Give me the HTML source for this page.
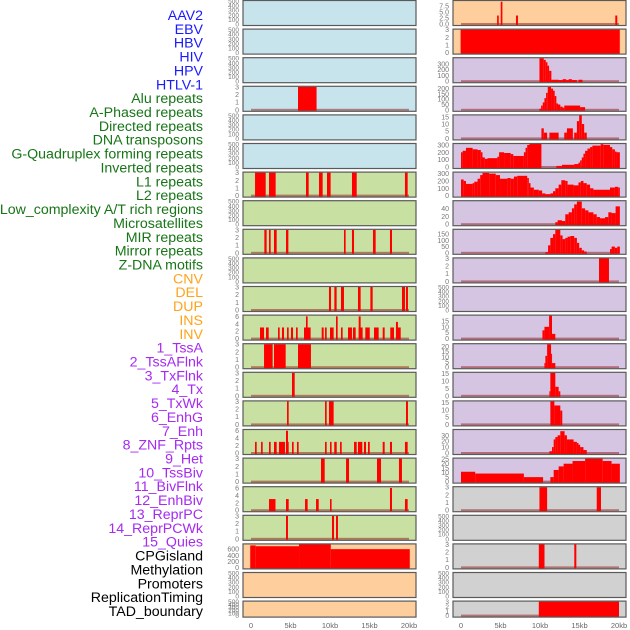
<!DOCTYPE html>
<html><head><meta charset="utf-8">
<style>
html,body{margin:0;padding:0;background:#fff;}
svg{display:block;font-family:"Liberation Sans",sans-serif;}
</style></head>
<body>
<svg id="chart" width="630" height="630" viewBox="0 0 630 630" xmlns="http://www.w3.org/2000/svg"></svg>
<script>
// ---- data ----
const labelNames = ["AAV2","EBV","HBV","HIV","HPV","HTLV-1","Alu repeats","A-Phased repeats","Directed repeats","DNA transposons","G-Quadruplex forming repeats","Inverted repeats","L1 repeats","L2 repeats","Low_complexity A/T rich regions","Microsatellites","MIR repeats","Mirror repeats","Z-DNA motifs","CNV","DEL","DUP","INS","INV","1_TssA","2_TssAFlnk","3_TxFlnk","4_Tx","5_TxWk","6_EnhG","7_Enh","8_ZNF_Rpts","9_Het","10_TssBiv","11_BivFlnk","12_EnhBiv","13_ReprPC","14_ReprPCWk","15_Quies","CPGisland","Methylation","Promoters","ReplicationTiming","TAD_boundary"];
const labelGroups = ["v","v","v","v","v","v","r","r","r","r","r","r","r","r","r","r","r","r","r","s","s","s","s","s","c","c","c","c","c","c","c","c","c","c","c","c","c","c","c","o","o","o","o","o"];
const xTicks = [0,5,10,15,20];
const xTickLabels = ["0","5kb","10kb","15kb","20kb"];

// bars: [startKb, endKb, value]
const L4 = [[5.95,8.3,3]];
const L7 = [[0.51,1.86,3],[2.28,3.12,3],[6.96,7.3,3],[8.61,9.07,3],[9.62,10.08,3],[12.78,13.38,3],[19.49,19.83,3]];
const L9 = [[1.69,1.98,3],[2.28,2.49,3],[2.91,3.25,3],[4.43,4.73,3],[11.77,11.98,3],[12.78,13.04,3],[15.44,15.78,3],[17.59,17.85,3]];
const L11 = [[9.87,10.13,3],[10.55,10.84,3],[11.39,11.77,3],[13.54,13.88,3],[15.11,15.4,3],[19.11,19.49,3],[19.62,19.87,3]];
const L12 = [[1.14,1.65,3],[1.9,2.24,3],[3.42,3.63,3],[3.92,4.18,3],[4.56,4.77,3],[5.06,5.32,3],[5.7,5.91,3],[6.71,7.55,3],[6.96,7.17,6],[8.95,9.2,3],[9.37,9.58,3],[10.0,10.46,3],[10.76,10.97,6],[11.39,11.6,3],[12.28,12.78,3],[12.91,13.25,3],[13.63,14.13,3],[13.63,13.88,6],[14.47,15.03,3],[15.57,16.16,3],[16.67,16.92,3],[17.63,18.1,3],[18.35,18.95,3],[18.35,18.6,4.5]];
const L13 = [[1.65,2.74,3],[2.91,4.39,3],[5.95,7.59,3]];
const L14 = [[5.19,5.53,3]];
const L15 = [[4.56,4.77,3],[9.37,9.58,3],[9.87,10.46,3],[19.62,19.87,3]];
const L16 = [[0.51,0.72,3],[1.27,1.48,3],[2.28,2.49,3],[2.91,3.25,3],[3.54,4.3,3],[4.43,4.77,3],[4.43,4.68,6],[5.19,5.4,3],[5.82,6.03,3],[9.37,9.58,3],[10.0,10.2,3],[10.54,10.85,3],[11.27,11.48,3],[13.04,13.38,3],[13.54,14.09,3],[14.3,14.56,3],[14.81,15.03,3],[16.67,16.92,3],[17.59,17.85,3],[19.49,19.83,3]];
const L17 = [[8.86,9.33,3],[12.03,12.41,3],[15.95,16.46,3],[18.73,19.11,3]];
const L18 = [[2.28,3.1,3],[4.43,4.77,3],[6.84,7.17,3],[8.23,8.57,3],[10.0,10.2,3],[17.59,17.85,6],[19.49,19.83,3]];
const L19 = [[4.43,4.68,3],[10.25,10.51,3],[10.76,11.01,3]];
const L20 = [[-0.1,0.6,726],[0.6,6.08,700],[6.08,10.1,758],[10.1,20.1,603]];

const R1 = [[4.57,4.78,3.5],[5.03,5.24,9.2],[6.96,7.21,3.5],[19.53,19.78,3.5]];
const R2 = [[-0.05,20.1,3]];
const R3 = [[9.93,10.48,400],[10.48,10.73,370],[10.73,10.94,330],[10.94,11.15,270],[11.15,11.44,180],[11.44,12.36,25],[12.36,12.86,20],[12.86,13.33,35],[13.33,13.62,20],[13.62,14.04,35],[14.04,14.67,20],[14.87,15.38,25]];
const R4 = [[9.93,10.14,10],[10.14,10.35,40],[10.35,10.56,70],[10.56,10.77,110],[10.77,10.98,160],[10.98,11.4,215],[11.4,11.65,200],[11.65,11.86,180],[11.86,12.07,130],[12.07,12.28,60],[12.28,12.57,50],[12.57,12.86,30],[12.86,13.07,20],[13.07,15.08,40],[15.08,15.71,25]];
const R5 = [[10.18,10.48,7],[10.48,10.9,4],[11.19,12.36,4],[13.07,13.41,4],[13.41,14.16,7],[14.33,14.67,4],[14.67,14.96,12],[14.96,15.29,17],[15.29,15.59,10],[15.59,15.92,4]];
const R6 = [[0,0.21,200],[0.21,0.63,220],[0.63,1.47,260],[1.47,2.1,240],[2.1,2.51,230],[2.51,2.72,200],[2.72,3.02,130],[3.02,3.35,110],[3.35,4.61,120],[4.61,4.82,140],[4.82,5.45,200],[5.45,6.29,190],[6.29,6.62,175],[6.62,7.96,150],[7.96,8.17,200],[8.17,8.38,260],[8.38,8.67,300],[8.67,10.18,315],[12.07,12.78,15],[12.78,14.33,30],[14.33,14.87,40],[14.87,15.08,60],[15.08,15.29,90],[15.29,15.5,130],[15.5,15.71,180],[15.71,16.01,220],[16.01,16.34,250],[16.34,16.63,270],[16.63,17.68,290],[17.68,18.02,310],[18.02,18.86,300],[18.86,19.15,270],[19.15,19.48,240],[19.48,19.69,210],[19.69,20.11,200]];
const R7 = [[0,0.34,220],[0.34,0.63,200],[0.63,1.47,160],[1.47,1.68,170],[1.68,2.1,190],[2.1,2.43,230],[2.43,2.72,280],[2.72,3.56,310],[3.56,4.4,300],[4.4,4.94,280],[4.94,5.87,230],[5.87,6.29,240],[6.29,6.7,230],[6.7,7.12,260],[7.12,8.38,270],[8.38,8.59,240],[8.59,8.8,170],[8.8,9.22,110],[9.22,9.85,80],[9.85,10.27,70],[10.27,10.68,30],[10.68,11.31,20],[11.31,11.65,30],[11.65,11.94,60],[11.94,12.36,100],[12.36,12.7,150],[12.7,13.2,210],[13.2,13.49,200],[13.49,14.25,150],[14.25,14.87,140],[14.87,15.17,180],[15.17,15.5,200],[15.5,15.92,170],[15.92,16.34,150],[16.34,16.76,100],[16.76,18.86,80],[18.86,19.48,110],[19.48,19.9,120],[19.9,20.11,110]];
const R8 = [[11.94,12.23,5],[12.23,12.78,10],[12.78,13.2,8],[13.2,13.62,25],[13.62,14.04,30],[14.04,14.33,40],[14.33,14.67,50],[14.67,15.29,57],[15.29,15.71,40],[15.71,16.13,35],[16.13,16.76,30],[16.76,17.18,25],[17.18,17.6,18],[17.6,18.23,15],[18.23,18.65,18],[18.65,19.06,30],[19.06,19.57,28],[19.57,20.11,45]];
const R9 = [[10.68,11.02,5],[11.02,11.31,60],[11.31,11.65,120],[11.65,11.94,150],[11.94,12.57,185],[12.57,12.86,140],[12.86,13.2,110],[13.2,13.49,120],[13.49,13.83,130],[13.83,14.33,135],[14.33,14.67,120],[14.67,14.96,80],[14.96,15.29,40],[15.29,15.59,20],[15.59,15.92,10],[18.86,19.06,30],[19.06,19.48,50],[19.48,19.78,40],[19.78,20.11,50]];
const R10 = [[17.47,18.73,3]];
const R12 = [[10.31,10.56,7],[10.56,11.15,10],[11.15,11.52,19.5],[11.52,11.94,4]];
const R13 = [[10.56,10.68,4],[10.68,10.9,11],[10.9,11.4,22.3],[11.4,11.52,13],[11.52,11.94,4]];
const R14 = [[11.19,11.31,3],[11.31,11.94,15.3],[11.94,12.36,6],[12.36,12.57,3]];
const R15 = [[11.31,11.82,15.8],[11.82,12.57,13],[12.57,12.82,9.5]];
const R16 = [[11.19,11.52,3],[11.52,11.73,10],[11.73,11.94,23],[11.94,12.23,27],[12.23,12.57,30],[12.57,13.11,37],[13.11,13.41,30],[13.41,14.25,23],[14.25,14.67,19],[14.67,14.87,17],[14.87,15.08,14],[15.08,15.5,10],[15.5,15.92,5]];
const R17 = [[0,1.8,11],[1.8,7.96,9],[7.96,10.39,5],[11.31,11.73,5],[11.73,12.36,13],[12.36,12.99,17],[12.99,14.12,20],[14.12,15.71,23],[15.71,17.93,25.7],[17.93,19.06,23],[19.06,20.11,20]];
const R18 = [[9.93,10.9,3],[17.18,17.72,3]];
const R20 = [[9.85,10.57,3],[14.34,14.6,3]];
const R22 = [[9.85,20.0,3]];

const T_EMPTY = [0,100,200,300,400,500];
const T3 = [0,1,2,3];
const T6 = [0,2,4,6];
// [barsArray, yMax, ticks, tickLabels]
const leftPanels = [
 [null,500,T_EMPTY],[null,500,T_EMPTY],[null,500,T_EMPTY],[L4,3,T3],[null,500,T_EMPTY],[null,500,T_EMPTY],
 [L7,3,T3],[null,500,T_EMPTY],[L9,3,T3],[null,500,T_EMPTY],[L11,3,T3],[L12,6.2,T6],[L13,3,T3],[L14,3,T3],
 [L15,3,T3],[L16,6.2,T6],[L17,3,T3],[L18,6.2,T6],[L19,3,T3],[L20,760,[0,200,400,600]],[null,500,T_EMPTY],[null,500,T_EMPTY]
];
const rightPanels = [
 [R1,9.5,[0,2.5,5,7.5],["0.0","2.5","5.0","7.5"]],[R2,3,T3],[R3,400,[0,100,200,300]],[R4,217,[0,50,100,150,200]],
 [R5,16,[0,5,10,15]],[R6,312,[0,100,200,300]],[R7,314,[0,100,200,300]],[R8,58,[0,20,40]],[R9,185,[0,50,100,150]],
 [R10,3,T3],[null,500,T_EMPTY],[R12,19.5,[0,5,10,15]],[R13,22.3,[0,5,10,15,20]],[R14,15.3,[0,5,10,15]],
 [R15,15.8,[0,5,10,15]],[R16,39,[0,10,20,30]],[R17,25.7,[0,5,10,15,20,25]],[R18,3,T3],[null,500,T_EMPTY],
 [R20,3,T3],[null,500,T_EMPTY],[R22,3,T3]
];
const leftColors = ["b","b","b","b","b","b","g","g","g","g","g","g","g","g","g","g","g","g","g","o","o","o"];
const rightColors = ["o","o","p","p","p","p","p","p","p","p","p","p","p","p","p","p","p","y","y","y","y","y"];

// ---- drawing ----
const NS = "http://www.w3.org/2000/svg";
const svg = document.getElementById("chart");
const bg = {b:"#c7e4ec",g:"#c8e1a3",o:"#fecf9d",p:"#d5c5e3",y:"#d1d1d1"};
const txtCol = {v:"#1a1aff",r:"#177517",s:"#ffa31a",c:"#a62af0",o:"#000"};
function mk(tag, attrs, parent){const e=document.createElementNS(NS,tag);for(const k in attrs)e.setAttribute(k,attrs[k]);(parent||svg).appendChild(e);return e;}

// labels
const lg = mk("g",{});


labelNames.forEach((n,i)=>{
  const t = mk("text",{x:203,y:20+i*13.86,"text-anchor":"end","font-size":"14.2",fill:txtCol[labelGroups[i]]},lg);
  t.textContent = n;
  
  
});

function drawColumn(panels, colors, boxX, zeroKbX, side){
  const boxW = 173;
  const xScale = kb => zeroKbX + kb*7.9;
  panels.forEach((p,i)=>{
    const [bars,yMax,ticks,tl] = p;
    const top = i*28.6 + 0.5;
    const h = (i===21) ? 16 : 25;
    const zeroY = top + h - 1.5;
    const yScale = v => zeroY - v/yMax*(h-2);
    const g = mk("g",{});
    
    
    mk("rect",{x:boxX,y:top,width:boxW,height:h,fill:bg[colors[i]],stroke:"none"},g);
    if(bars){
      const bl = mk("rect",{x:xScale(0),y:zeroY-1,width:xScale(20)-xScale(0),height:2,fill:"#8b0000","fill-opacity":"0.45"},g);
      
      
      bars.forEach(b=>{
        const x0=Math.max(xScale(b[0]),boxX), x1=Math.min(xScale(b[1]),boxX+boxW);
        const yt=Math.max(yScale(b[2]),top);
        const r = mk("rect",{x:x0,y:yt,width:Math.max(x1-x0,1),height:zeroY+1-yt,fill:"#ff0000"},g);
        
        
      });
    }
    mk("rect",{x:boxX,y:top,width:boxW,height:h,fill:"none",stroke:"#5a5a5a","stroke-width":"1.2"},g);
    const fs = (ticks===T_EMPTY || i===21) ? 6.5 : 7;
    ticks.forEach((v,k)=>{
      const t = mk("text",{x:boxX-4,y:yScale(v)+2.5,"text-anchor":"end","font-size":fs,fill:"#777"},g);
      t.textContent = tl ? tl[k] : String(v);
      
      
    });
  });
  xTicks.forEach((v,k)=>{
    const t = mk("text",{x:xScale(v),y:628,"text-anchor":"middle","font-size":"7.5",fill:"#666"});
    t.textContent = xTickLabels[k];
    
    
  });
}
drawColumn(leftPanels, leftColors, 243, 251, "left");
drawColumn(rightPanels, rightColors, 453, 461, "right");
</script>
</body></html>
